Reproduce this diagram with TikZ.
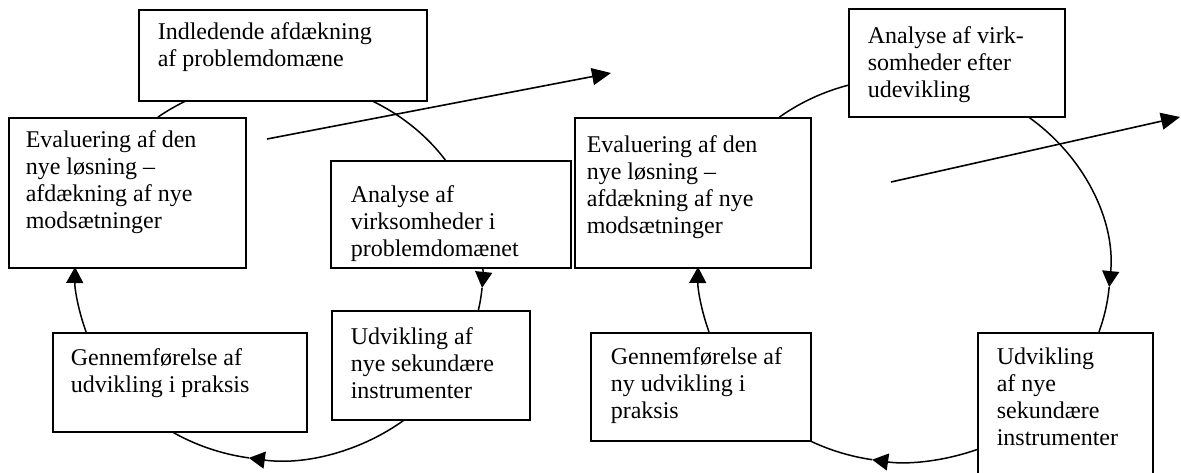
\documentclass[tikz,border=0pt]{standalone}
\usepackage{fontspec}
\setmainfont{Liberation Serif}
\usetikzlibrary{arrows.meta,calc}

% box contents: width, height, left indent, first baseline, text
\newcommand{\cardbody}[5]{%
  \begin{minipage}[c][#2][t]{#1}%
    \parindent=0pt\leftskip=#3\relax
    \rule{0pt}{#4}#5%
  \end{minipage}}

\begin{document}
\begin{tikzpicture}[x=1pt, y=1pt,
  card/.style={draw, line width=1.6pt, fill=white, inner sep=0pt,
    anchor=north west, font=\fontsize{24}{27}\selectfont},
  orbit/.style={line width=1.5pt},
  orbittip/.style={orbit, -{Triangle[length=16pt,width=17pt]}},
  jump/.style={line width=1.6pt, -{Triangle[length=19pt,width=17pt]}},
]
\clip (0,0) rectangle (1181,472);

% centres of the two cycles
\coordinate (o1) at (279,202);
\coordinate (o2) at (904,202);

% ---- first cycle (ellipse 204 x 190) ----
\coordinate (t1) at ($(o1)+(-5.4:204pt and 190pt)$);
\coordinate (t2) at ($(o1)+(-98.5:204pt and 190pt)$);
\draw[orbit] ($(o1)+(126.4:204pt and 190pt)$)
  arc[start angle=126.4, end angle=116.5, x radius=204pt, y radius=190pt];
\draw[orbit] ($(o1)+(63.5:204pt and 190pt)$)
  arc[start angle=63.5, end angle=35.4, x radius=204pt, y radius=190pt];
\draw[orbittip] ($(o1)+(0.9:204pt and 190pt)$)
  arc[start angle=0.9, end angle=-5.4, x radius=204pt, y radius=190pt];
\draw[orbit] (t1)
  arc[start angle=-5.4, end angle=-12.2, x radius=204pt, y radius=190pt];
\draw[orbittip] ($(o1)+(-51.6:204pt and 190pt)$)
  arc[start angle=-51.6, end angle=-98.5, x radius=204pt, y radius=190pt];
\draw[orbit] (t2)
  arc[start angle=-98.5, end angle=-122.1, x radius=204pt, y radius=190pt];
\draw[orbittip] ($(o1)+(-161:204pt and 190pt)$)
  arc[start angle=-161, end angle=-180.9, x radius=204pt, y radius=190pt];

% ---- second cycle (ellipse 206 x 192) ----
\coordinate (t3) at ($(o2)+(-5.1:206pt and 192pt)$);
\coordinate (t4) at ($(o2)+(-98.9:206pt and 192pt)$);
\draw[orbit] ($(o2)+(127.2:206pt and 192pt)$)
  arc[start angle=127.2, end angle=105.8, x radius=206pt, y radius=192pt];
\draw[orbittip] ($(o2)+(52.8:206pt and 192pt)$)
  arc[start angle=52.8, end angle=-5.1, x radius=206pt, y radius=192pt];
\draw[orbit] (t3)
  arc[start angle=-5.1, end angle=-18.8, x radius=206pt, y radius=192pt];
\draw[orbittip] ($(o2)+(-69.2:206pt and 192pt)$)
  arc[start angle=-69.2, end angle=-98.9, x radius=206pt, y radius=192pt];
\draw[orbit] (t4)
  arc[start angle=-98.9, end angle=-117.4, x radius=206pt, y radius=192pt];
\draw[orbittip] ($(o2)+(-161.2:206pt and 192pt)$)
  arc[start angle=-161.2, end angle=-180.9, x radius=206pt, y radius=192pt];

% ---- boxes of the first cycle ----
\node[card] (A) at (138,463)
  {\cardbody{288pt}{91pt}{19pt}{30pt}{Indledende afdækning\\af problemdomæne}};
\node[card] (B) at (8,355)
  {\cardbody{237pt}{150pt}{17pt}{30pt}{Evaluering af den\\nye løsning –\\afdækning af nye\\modsætninger}};
\node[card] (C) at (330,312)
  {\cardbody{240pt}{107pt}{20pt}{42pt}{Analyse af\\virksomheder i\\problemdomænet}};
\node[card] (D) at (331,162)
  {\cardbody{198pt}{109pt}{19pt}{34pt}{Udvikling af\\nye sekundære\\instrumenter}};
\node[card] (E) at (52,140)
  {\cardbody{254pt}{99pt}{18pt}{33pt}{Gennemførelse af\\udvikling i praksis}};

% ---- boxes of the second cycle ----
\node[card] (F) at (848,464)
  {\cardbody{216pt}{108pt}{19pt}{35pt}{Analyse af virk-\\somheder efter\\udevikling}};
\node[card] (G) at (574,355)
  {\cardbody{236pt}{150pt}{12pt}{35pt}{Evaluering af den\\nye løsning –\\afdækning af nye\\modsætninger}};
\node[card] (H) at (590,140)
  {\cardbody{220pt}{108pt}{20pt}{32pt}{Gennemførelse af\\ny udvikling i\\praksis}};
\node[card] (I) at (977,140)
  {\cardbody{175pt}{170pt}{19pt}{32pt}{Udvikling\\af nye\\sekundære\\instrumenter}};

% ---- arrows leading on to the next cycle ----
\coordinate (s1) at (267,333);
\coordinate (e1) at (611,399);
\coordinate (s2) at (891,290);
\coordinate (e2) at (1180,355);
\draw[jump] (s1) -- (e1);
\draw[jump] (s2) -- (e2);
\end{tikzpicture}
\end{document}
